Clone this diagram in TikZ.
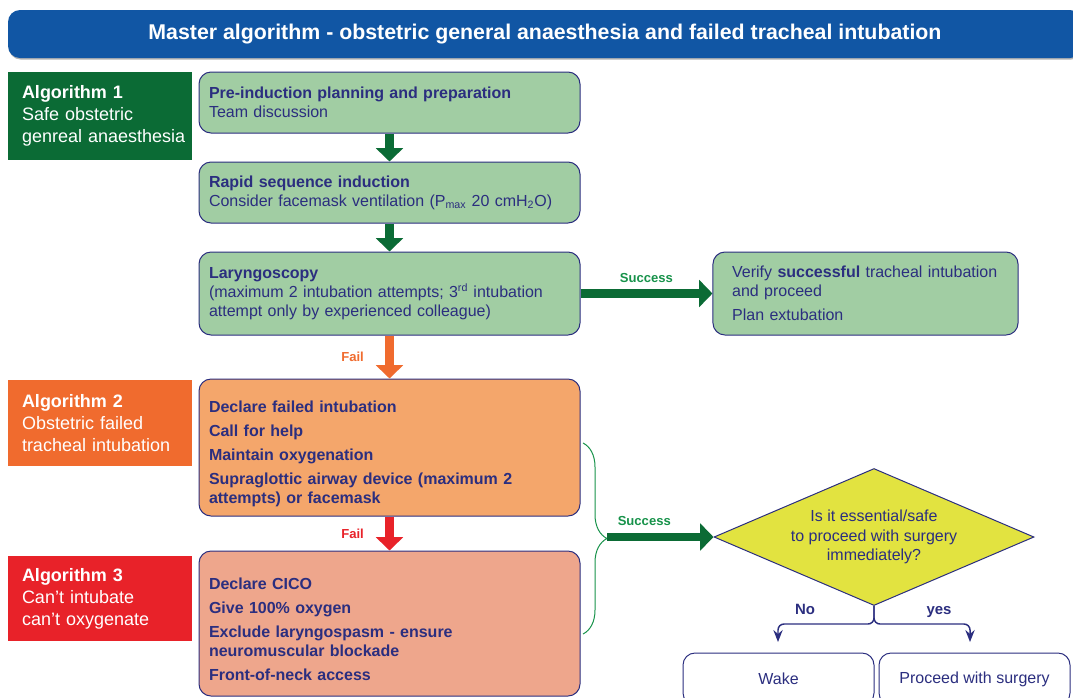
\documentclass[tikz,border=0pt]{standalone}
\usepackage{fontspec}
\setmainfont{Liberation Sans}
\usetikzlibrary{arrows.meta,shapes.geometric,decorations.pathreplacing,shadows}

\definecolor{titleblue}{HTML}{1156A4}
\definecolor{navy}{HTML}{2B2E7F}
\definecolor{alggreen}{HTML}{0B6B35}
\definecolor{boxgreen}{HTML}{A1CDA3}
\definecolor{algorange}{HTML}{F06B2E}
\definecolor{boxorange}{HTML}{F4A66B}
\definecolor{algred}{HTML}{E82229}
\definecolor{boxsalmon}{HTML}{EEA68C}
\definecolor{successgreen}{HTML}{17924A}
\definecolor{diayellow}{HTML}{E2E340}

\tikzset{
  titlebar/.style={fill=titleblue, rounded corners=9pt, minimum width=805.5pt, minimum height=36pt, text=white, font=\fontsize{16}{19}\selectfont\bfseries, drop shadow={shadow xshift=0.6pt, shadow yshift=-1.2pt, opacity=0.6}},
  flowbox/.style={draw=navy, line width=0.75pt, rounded corners=9pt, minimum width=285.75pt, text width=270.75pt, inner xsep=7.5pt, align=left, text=navy, font=\fontsize{12}{14.25}\selectfont},
  algbox/.style={minimum width=138pt, text width=117pt, inner xsep=10.5pt, align=left, text=white, font=\fontsize{13.5}{16.5}\selectfont},
  decision/.style={diamond, aspect=2.33, draw=navy, line width=0.75pt, fill=diayellow, minimum width=240pt, minimum height=102.75pt, inner sep=0pt, align=center, text=navy, font=\fontsize{12}{14.6}\selectfont},
  endbox/.style={draw=navy, line width=0.75pt, fill=white, rounded corners=9pt, minimum width=143.25pt, minimum height=39pt, text=navy, font=\fontsize{12}{14.25}\selectfont},
  blockarrow/.style={line width=6.5pt, -{Triangle[width=20pt,length=10pt]}},
  splitarrow/.style={navy, line width=1.1pt, rounded corners=4.5pt, -{Stealth[length=9pt,width=7pt,inset=3pt]}},
  steplabel/.style={font=\fontsize{9.8}{11}\selectfont\bfseries, inner sep=2pt},
  branchlabel/.style={anchor=base, text=navy, font=\fontsize{11.2}{13}\selectfont\bfseries},
}

\begin{document}
\begin{tikzpicture}[x=0.75pt, y=-0.75pt]

\useasboundingbox (0,0) rectangle (1073,697);
\clip (0,0) rectangle (1073,697);

\coordinate (braceTop) at (583,443);
\coordinate (braceBot) at (583,634);
\coordinate (braceTip) at (607,537);
\coordinate (noTurn) at (778,624);
\coordinate (noEnd) at (778,642);
\coordinate (yesTurn) at (970,624);
\coordinate (yesEnd) at (970,642);

\node[titlebar] (title) at (545,34) {Master algorithm - obstetric general anaesthesia and failed tracheal intubation};

\node[algbox, fill=alggreen, minimum height=66pt] (alg1) at (100,116)
  {\textbf{Algorithm 1}\\Safe obstetric\\\mbox{genreal anaesthesia}};
\node[algbox, fill=algorange, minimum height=64.5pt] (alg2) at (100,423)
  {\textbf{Algorithm 2}\\Obstetric failed\\\mbox{tracheal intubation}};
\node[algbox, fill=algred, minimum height=63.75pt] (alg3) at (100,598.5)
  {\textbf{Algorithm 3}\\Can't intubate\\can't oxygenate};

\node[flowbox, fill=boxgreen, minimum height=45.75pt] (prep) at (389.5,102.5)
  {\textbf{Pre-induction planning and preparation}\\Team discussion};
\node[flowbox, fill=boxgreen, minimum height=45.75pt] (rsi) at (389.5,192.5)
  {\textbf{Rapid sequence induction}\\Consider facemask ventilation (P\textsubscript{max} 20 cmH\textsubscript{2}O)};
\node[flowbox, fill=boxgreen, minimum height=62.25pt] (laryng) at (389.5,293.5)
  {\textbf{Laryngoscopy}\\(maximum 2 intubation attempts; 3\textsuperscript{rd} intubation\\attempt only by experienced colleague)};
\node[flowbox, fill=boxorange, minimum height=102.75pt, font=\fontsize{12}{14.25}\selectfont\bfseries] (failed) at (389.5,447.5)
  {\rule{0pt}{18pt}Declare failed intubation\\[3.75pt]Call for help\\[3.75pt]Maintain oxygenation\\[3.75pt]Supraglottic airway device (maximum 2\\attempts) or facemask};
\node[flowbox, fill=boxsalmon, minimum height=108.75pt, font=\fontsize{12}{14.25}\selectfont\bfseries] (cico) at (389.5,623.5)
  {\rule{0pt}{18pt}Declare CICO\\[3.75pt]Give 100\% oxygen\\[3.75pt]Exclude laryngospasm - ensure\\neuromuscular blockade\\[3.75pt]Front-of-neck access};

\node[flowbox, fill=boxgreen, minimum width=228.75pt, text width=200pt, inner xsep=14.4pt, minimum height=62.25pt] (verify) at (865.5,293.5)
  {Verify \textbf{successful} tracheal intubation\\and proceed\\[3.75pt]Plan extubation};

\node[decision] (essential) at (874,537) {Is it essential/safe\\to proceed with surgery\\immediately?};

\node[endbox] (wake) at (778.5,679) {Wake};
\node[endbox] (surgery) at (974.5,679) {Proceed with surgery};

\draw[blockarrow, alggreen] (prep) -- (rsi);
\draw[blockarrow, alggreen] (rsi) -- (laryng);
\draw[blockarrow, alggreen] (laryng) -- node[steplabel, text=successgreen, above=3pt] (lblSuccessA) {Success} (verify);
\draw[blockarrow, algorange] (laryng) -- node[steplabel, text=algorange, left=14pt] (lblFailA) {Fail} (failed);
\draw[blockarrow, algred] (failed) -- node[steplabel, text=algred, left=14pt] (lblFailB) {Fail} (cico);

\draw[successgreen, line width=0.75pt, decorate, decoration={brace, amplitude=18pt}] (braceTop) -- (braceBot);
\draw[blockarrow, alggreen] (braceTip) -- node[steplabel, text=successgreen, pos=0.35, above=3pt] (lblSuccessB) {Success} (essential.west);

\draw[splitarrow] (essential.south) |- (noTurn) -- (noEnd);
\draw[splitarrow] (essential.south) |- (yesTurn) -- (yesEnd);
\node[branchlabel] (lblNo) at (805,614) {No};
\node[branchlabel] (lblYes) at (939,614) {yes};

\end{tikzpicture}
\end{document}
